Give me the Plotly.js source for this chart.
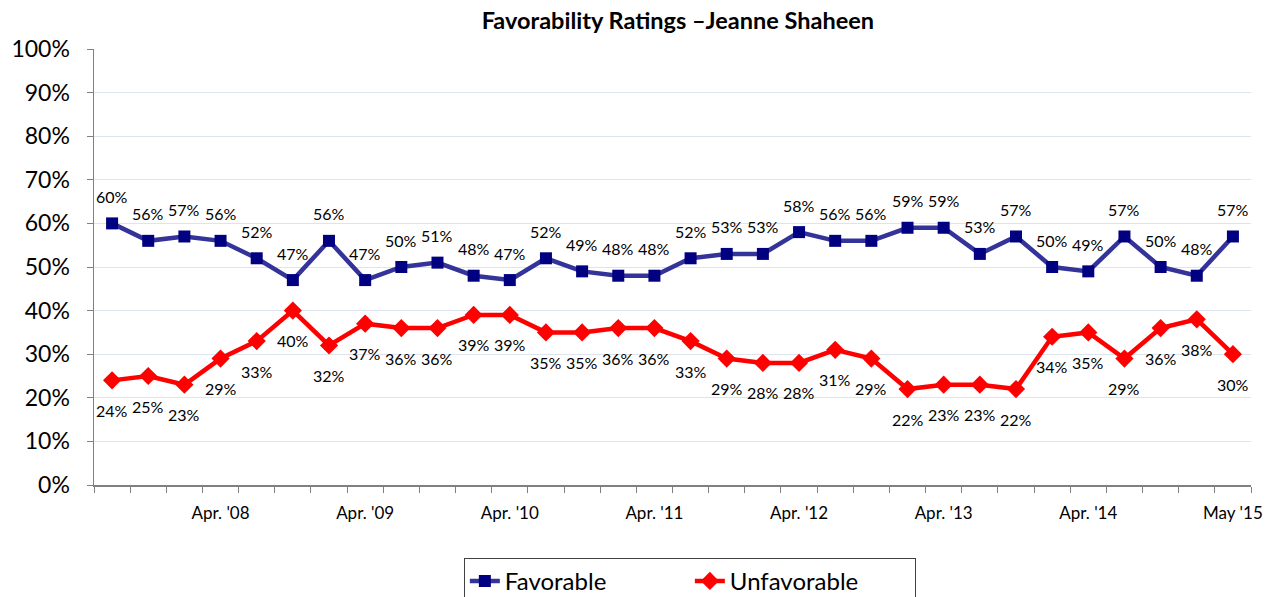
<!DOCTYPE html>
<html>
<head>
<meta charset="utf-8">
<script src="https://cdn.plot.ly/plotly-3.0.1.min.js"></script>
<style>
html,body{margin:0;padding:0;background:#fff;}
#chart{width:1279px;height:597px;}
</style>
</head>
<body>
<div id="chart"></div>
<script>
// Survey waves (index order), with date labels shown every fourth wave
const favorable   = [60,56,57,56,52,47,56,47,50,51,48,47,52,49,48,48,52,53,53,58,56,56,59,59,53,57,50,49,57,50,48,57];
const unfavorable = [24,25,23,29,33,40,32,37,36,36,39,39,35,35,36,36,33,29,28,28,31,29,22,23,23,22,34,35,29,36,38,30];
const tickWaves   = [3,7,11,15,19,23,27,31];
const tickLabels  = ["Apr. '08","Apr. '09","Apr. '10","Apr. '11","Apr. '12","Apr. '13","Apr. '14","May '15"];
const yTicks      = [0,10,20,30,40,50,60,70,80,90,100];

const waves = favorable.map((_, i) => i);
const FONT = "Lato, 'Open Sans', sans-serif";
const labelFont = {family: FONT, size: 16, color: "#000"};

const traces = [
  {
    x: waves, y: favorable, name: "Favorable", type: "scatter", mode: "lines+markers",
    line: {color: "#333399", width: 4.5},
    marker: {symbol: "square", size: 12, color: "#000080", line: {width: 0}},
    hoverinfo: "skip"
  },
  {
    x: waves, y: unfavorable, name: "Unfavorable", type: "scatter", mode: "lines+markers",
    line: {color: "#FF0000", width: 4.5},
    marker: {symbol: "diamond", size: 14, color: "#FF0000", line: {width: 0}},
    hoverinfo: "skip"
  }
];

const annotations = [];
favorable.forEach((v, i) => annotations.push({
  x: i, y: v, xref: "x", yref: "y", text: v + "%", showarrow: false,
  yshift: 27, font: labelFont
}));
unfavorable.forEach((v, i) => annotations.push({
  x: i, y: v, xref: "x", yref: "y", text: v + "%", showarrow: false,
  yshift: -30, font: labelFont
}));

const layout = {
  width: 1279, height: 597,
  margin: {l: 94, r: 28, t: 49, b: 112, autoexpand: false},
  paper_bgcolor: "#fff", plot_bgcolor: "#fff",
  title: {
    text: "<b>Favorability Ratings –Jeanne Shaheen</b>",
    font: {family: FONT, size: 23.5, color: "#000"},
    x: 0.53, xanchor: "center", y: 0.965, yanchor: "middle"
  },
  showlegend: true,
  legend: {
    orientation: "h", x: 0.515, xanchor: "center", y: -0.167, yanchor: "top",
    bordercolor: "#404040", borderwidth: 1,
    font: {family: FONT, size: 24, color: "#000"},
    entrywidth: 180, entrywidthmode: "pixels"
  },
  xaxis: {
    range: [-0.5, favorable.length - 0.5],
    tickmode: "array", tickvals: tickWaves, ticktext: tickLabels,
    ticks: "", showgrid: false, zeroline: false,
    showline: true, linecolor: "#808080", linewidth: 1.5,
    ticklabelstandoff: 12,
    tickfont: {family: FONT, size: 17, color: "#000"},
    minor: {tick0: -0.5, dtick: 1, ticks: "outside", ticklen: 6, tickcolor: "#808080", tickwidth: 1, showgrid: false},
    fixedrange: true
  },
  yaxis: {
    range: [0, 100],
    tickmode: "array", tickvals: yTicks, ticktext: yTicks.map(v => v + "%"),
    ticks: "outside", ticklen: 6, tickcolor: "#808080",
    ticklabelstandoff: 12,
    showgrid: true, gridcolor: "#dde4f0", gridwidth: 1,
    zeroline: false,
    showline: true, linecolor: "#808080", linewidth: 1.5,
    tickfont: {family: FONT, size: 23, color: "#000"},
    fixedrange: true
  },
  annotations: annotations
};

Plotly.newPlot("chart", traces, layout, {displayModeBar: false, staticPlot: true});
</script>
</body>
</html>
